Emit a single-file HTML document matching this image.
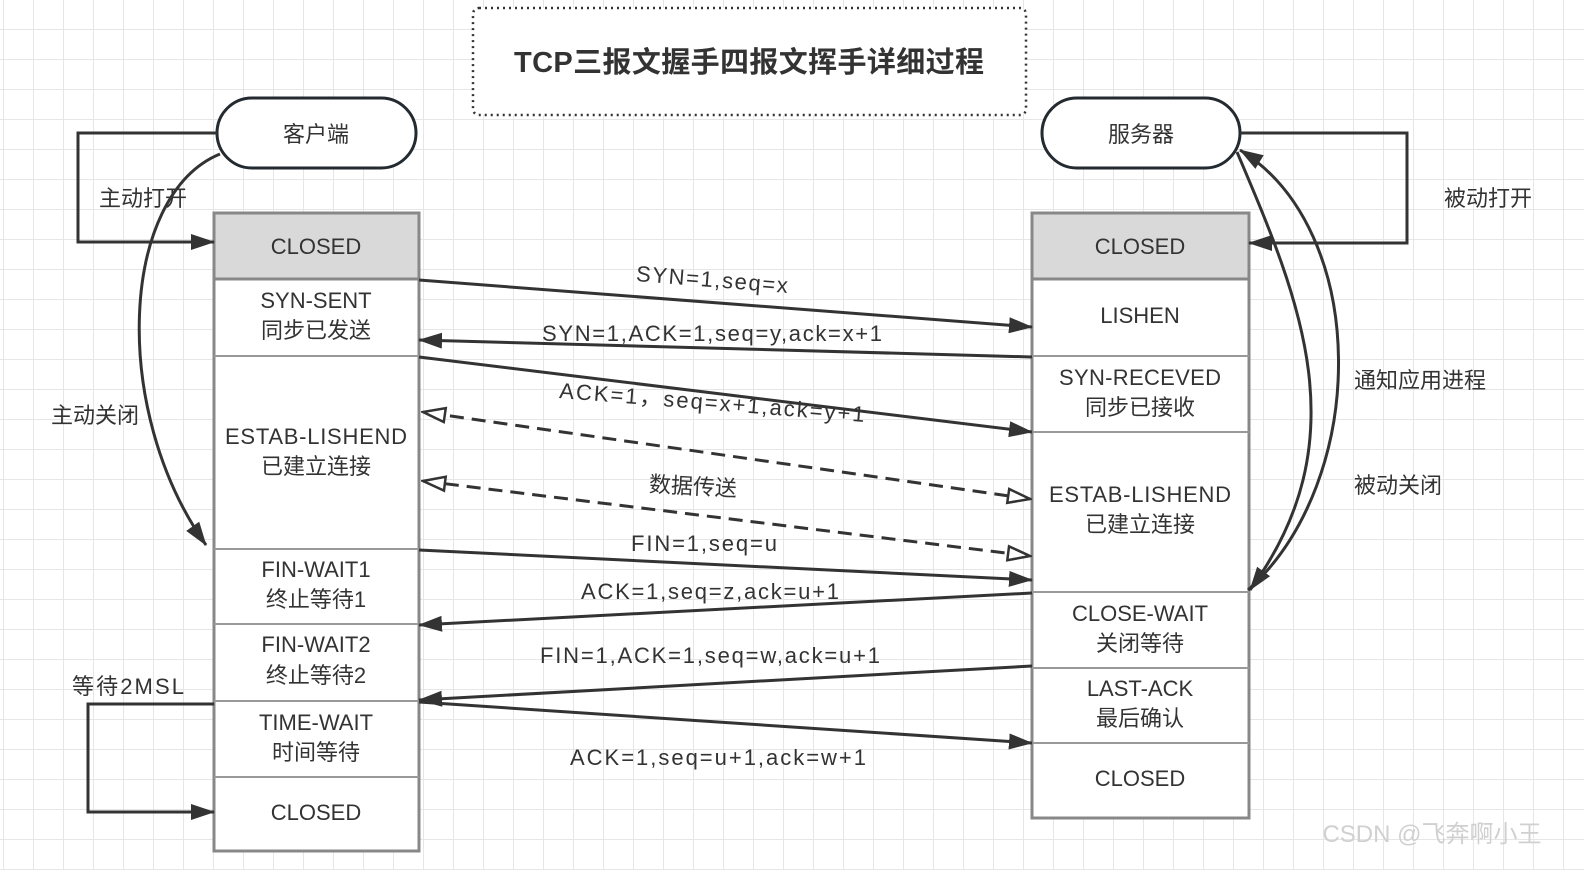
<!DOCTYPE html>
<html><head><meta charset="utf-8"><style>
html,body{margin:0;padding:0;background:#fff}
svg{display:block}
text{font-family:"Liberation Sans","Noto Sans CJK SC",sans-serif;fill:#333;font-size:22px}
</style></head><body>
<svg width="1584" height="870" viewBox="0 0 1584 870" xmlns="http://www.w3.org/2000/svg">
<defs>
<pattern id="g" x="3" y="29" width="30" height="30" patternUnits="userSpaceOnUse">
<path d="M0 0H30M0 0V30" stroke="#e6e6e6" stroke-width="2" fill="none"/>
</pattern>
<marker id="f" viewBox="0 0 24 16" refX="23" refY="8" markerWidth="24" markerHeight="16" markerUnits="userSpaceOnUse" orient="auto">
<path d="M0,0 L24,8 L0,16 Z" fill="#333"/>
</marker>
<marker id="h" viewBox="0 0 26 18" refX="24" refY="9" markerWidth="26" markerHeight="18" markerUnits="userSpaceOnUse" orient="auto-start-reverse">
<path d="M2,2 L24,9 L2,16 Z" fill="#fff" stroke="#333" stroke-width="2.5"/>
</marker>
</defs>
<rect width="1584" height="870" fill="url(#g)"/>

<rect x="473" y="8" width="553" height="107" rx="6" fill="#fff" stroke="#333" stroke-width="2.5" stroke-dasharray="2,4"/>
<text x="749" y="72" text-anchor="middle" style="font-size:29px;font-weight:bold" textLength="470">TCP三报文握手四报文挥手详细过程</text>

<rect x="217" y="98" width="199" height="70" rx="35" fill="#fff" stroke="#232a30" stroke-width="3"/>
<text x="316" y="142" text-anchor="middle">客户端</text>
<rect x="1042" y="98" width="198" height="70" rx="35" fill="#fff" stroke="#232a30" stroke-width="3"/>
<text x="1141" y="142" text-anchor="middle">服务器</text>

<g stroke="#888" stroke-width="3">
<rect x="214" y="213" width="205" height="638" fill="#fff"/>
<rect x="214" y="213" width="205" height="66" fill="#d9d9d9"/>
<rect x="1032" y="213" width="217" height="605" fill="#fff"/>
<rect x="1032" y="213" width="217" height="66" fill="#d9d9d9"/>
</g>
<g stroke="#999" stroke-width="2">
<path d="M214 356H419M214 549H419M214 624H419M214 701H419M214 777H419"/>
<path d="M1032 356H1249M1032 432H1249M1032 592H1249M1032 668H1249M1032 743H1249"/>
</g>
<g text-anchor="middle">
<text x="316" y="254">CLOSED</text>
<text x="316" y="308">SYN-SENT</text>
<text x="316" y="338">同步已发送</text>
<text x="316" y="444" textLength="182">ESTAB-LISHEND</text>
<text x="316" y="474">已建立连接</text>
<text x="316" y="577">FIN-WAIT1</text>
<text x="316" y="607">终止等待1</text>
<text x="316" y="652">FIN-WAIT2</text>
<text x="316" y="683">终止等待2</text>
<text x="316" y="730">TIME-WAIT</text>
<text x="316" y="760">时间等待</text>
<text x="316" y="820">CLOSED</text>

<text x="1140" y="254">CLOSED</text>
<text x="1140" y="323">LISHEN</text>
<text x="1140" y="385" textLength="162">SYN-RECEVED</text>
<text x="1140" y="415">同步已接收</text>
<text x="1140" y="502" textLength="182">ESTAB-LISHEND</text>
<text x="1140" y="532">已建立连接</text>
<text x="1140" y="621">CLOSE-WAIT</text>
<text x="1140" y="651">关闭等待</text>
<text x="1140" y="696">LAST-ACK</text>
<text x="1140" y="726">最后确认</text>
<text x="1140" y="786">CLOSED</text>
</g>

<g stroke="#333" stroke-width="3" fill="none">
<path d="M419 280L1032 327" marker-end="url(#f)"/>
<path d="M1032 357L419 340" marker-end="url(#f)"/>
<path d="M419 357L1032 432" marker-end="url(#f)"/>
<path d="M1030 499L423 412" stroke-dasharray="14,8" marker-end="url(#h)" marker-start="url(#h)"/>
<path d="M423 481L1030 556" stroke-dasharray="14,8" marker-end="url(#h)" marker-start="url(#h)"/>
<path d="M419 550L1032 580" marker-end="url(#f)"/>
<path d="M1032 593L419 625" marker-end="url(#f)"/>
<path d="M1032 666L419 700" marker-end="url(#f)"/>
<path d="M419 702L1032 743" marker-end="url(#f)"/>
<path d="M217 133H78V242H214" marker-end="url(#f)"/>
<path d="M220 154C120 195 110 410 206 545" marker-end="url(#f)"/>
<path d="M214 704H88V812H214" marker-end="url(#f)"/>
<path d="M1240 133H1407V243H1249" marker-end="url(#f)"/>
<path d="M1237 152C1300 300 1360 440 1250 590" marker-end="url(#f)"/>
<path d="M1248 590C1370 480 1370 230 1240 150" marker-end="url(#f)"/>
</g>
<g text-anchor="middle">
<text x="712" y="287" transform="rotate(4.5 712 280)" textLength="152">SYN=1,seq=x</text>
<text x="712" y="341" textLength="340">SYN=1,ACK=1,seq=y,ack=x+1</text>
<text x="712" y="410" transform="rotate(4.5 712 403)" textLength="306">ACK=1，seq=x+1,ack=y+1</text>
<text x="693" y="494" transform="rotate(3 693 486)">数据传送</text>
<text x="704" y="551" textLength="146">FIN=1,seq=u</text>
<text x="710" y="599" textLength="258">ACK=1,seq=z,ack=u+1</text>
<text x="710" y="663" textLength="340">FIN=1,ACK=1,seq=w,ack=u+1</text>
<text x="718" y="765" textLength="296">ACK=1,seq=u+1,ack=w+1</text>
<text x="143" y="206">主动打开</text>
<text x="95" y="423">主动关闭</text>
<text x="128" y="694" textLength="112">等待2MSL</text>
<text x="1488" y="206">被动打开</text>
<text x="1420" y="388">通知应用进程</text>
<text x="1398" y="493">被动关闭</text>
</g>
<text x="1432" y="842" text-anchor="middle" style="fill:#d0d0d0;font-size:24px">CSDN @飞奔啊小王</text>
</svg>
</body></html>
